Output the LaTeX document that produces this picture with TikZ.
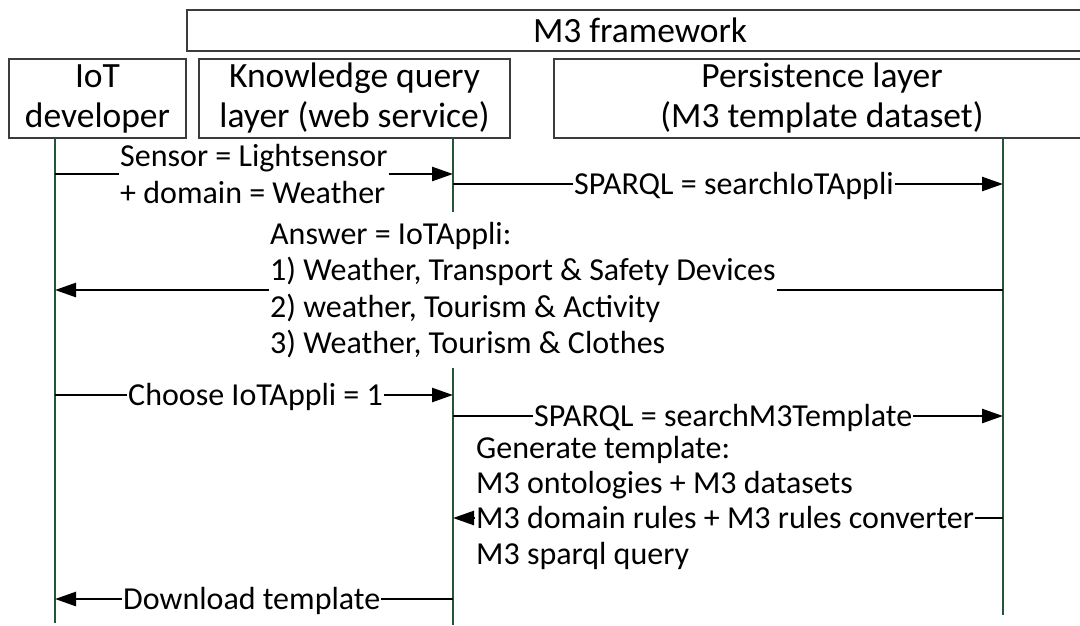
\documentclass[tikz,border=0pt]{standalone}
\usepackage{fontspec}
\setmainfont{Carlito}
\usetikzlibrary{arrows.meta}

\definecolor{lifegreen}{RGB}{38,84,56}
\definecolor{boxgray}{RGB}{60,60,60}

\begin{document}
\begin{tikzpicture}[x=1pt, y=-1pt,
        head/.style={draw=boxgray, line width=1.4pt, align=center, inner sep=0pt,
            font=\fontsize{35.5}{40}\selectfont},
        lifeline/.style={lifegreen, line width=1.2pt},
        plain/.style={line width=2.6pt},
        msg/.style={plain, -{Triangle[length=21pt, width=14pt]}},
        lbl/.style={inner xsep=1pt, inner ysep=0pt, align=left,
            font=\fontsize{32}{36.5}\selectfont},
        one/.style={lbl, anchor=west, text height=20pt, text depth=0pt}] %sequence
    \useasboundingbox (0,0) rectangle (1080,625);

    % boxes on top
    \node[head, minimum width=906pt, minimum height=41pt] (fw) at (640,30.5) {M3 framework};
    \node[head, minimum width=177pt, minimum height=79pt] (dev) at (97.5,98.5) {IoT\\developer};
    \node[head, minimum width=311pt, minimum height=79pt] (kq) at (354.5,98.5) {Knowledge query\\layer (web service)};
    \node[head, minimum width=536pt, minimum height=79pt] (pe) at (822,98.5) {Persistence layer\\(M3 template dataset)};

    % lifelines
    \coordinate (devL) at (55,138);
    \coordinate (kqL) at (453,138);
    \coordinate (peL) at (1003,138);
    \draw[lifeline] (devL) -- ++(0,485);
    \draw[lifeline] (kqL) -- ++(0,487);
    \draw[lifeline] (peL) -- ++(0,477);

    % 1
    \node[lbl, anchor=west] (sens) at (119,174) {Sensor = Lightsensor\\+ domain = Weather};
    \draw[plain] (devL |- sens) -- (sens.west);
    \draw[msg] (sens.east) -- (kqL |- sens);

    % 2
    \node[one] (qappli) at (573,184) {SPARQL = searchIoTAppli};
    \draw[plain] (kqL |- qappli) -- (qappli.west);
    \draw[msg] (qappli.east) -- (peL |- qappli);

    % 3
    \node[lbl, anchor=west, fill=white, inner ysep=10pt] (answer) at (269,290) {Answer = IoTAppli:\\1) Weather, Transport \& Safety Devices\\2) weather, Tourism \& Activity\\3) Weather, Tourism \& Clothes};
    \draw[plain] (peL |- answer) -- (answer.east);
    \draw[msg] (answer.west) -- (devL |- answer);

    % 4
    \node[one] (choose) at (127,395) {Choose IoTAppli = 1};
    \draw[plain] (devL |- choose) -- (choose.west);
    \draw[msg] (choose.east) -- (kqL |- choose);

    % 5
    \node[one] (qtempl) at (533,416) {SPARQL = searchM3Template};
    \draw[plain] (kqL |- qtempl) -- (qtempl.west);
    \draw[msg] (qtempl.east) -- (peL |- qtempl);

    % 6
    \node[one] (gen1) at (475,448) {Generate template:};
    \node[one] (gen2) at (475,483) {M3 ontologies + M3 datasets};
    \node[one] (rules) at (475,518) {M3 domain rules + M3 rules converter};
    \node[one] (gen4) at (475,554) {M3 sparql query};
    \draw[plain] (peL |- rules) -- (rules.east);
    \draw[msg] (rules.west) -- (kqL |- rules);

    % 7
    \node[one] (down) at (122,599) {Download template};
    \draw[plain] (kqL |- down) -- (down.east);
    \draw[msg] (down.west) -- (devL |- down);
\end{tikzpicture}
\end{document}
